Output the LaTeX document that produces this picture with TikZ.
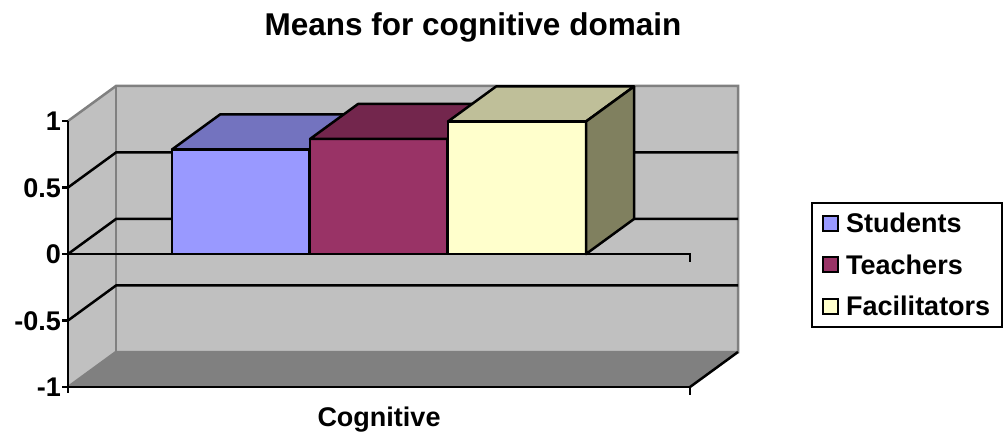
\documentclass[tikz,border=0pt]{standalone}
\usepackage{fontspec}
\setmainfont{Liberation Sans}
\begin{document}
\begin{tikzpicture}[x=1pt,y=-1pt,
  wallfill/.style={fill=wallgray},
  wedge/.style={draw=edgegray,line width=2.5pt},
  gridl/.style={draw=black,line width=2.5pt},
  axisl/.style={draw=black,line width=2.5pt},
  barface/.style={draw=black,line width=2.5pt,line join=round},
  lbl/.style={font=\bfseries\fontsize{27}{30}\selectfont,inner sep=0pt},
  ttl/.style={font=\bfseries\fontsize{31.5}{34}\selectfont,inner sep=0pt},
  legsq/.style={draw=black,line width=2pt,minimum size=15pt,inner sep=0pt}]
\definecolor{wallgray}{HTML}{C0C0C0}
\definecolor{floorgray}{HTML}{808080}
\definecolor{edgegray}{HTML}{808080}
\definecolor{stuF}{HTML}{9999FF}
\definecolor{stuT}{HTML}{7373BF}
\definecolor{teaF}{HTML}{993366}
\definecolor{teaT}{HTML}{73264D}
\definecolor{facF}{HTML}{FFFFCC}
\definecolor{facT}{HTML}{BFBF99}
\definecolor{facS}{HTML}{80805F}
\useasboundingbox[fill=white] (0,0) rectangle (1006,435);

% walls and floor
\fill[wallgray] (116,86) rectangle (738,352);
\fill[wallgray] (68,121) -- (116,86) -- (116,352) -- (68,387) -- cycle;
\fill[floorgray] (68,387) -- (116,352) -- (738,352) -- (690,387) -- cycle;
\draw[wedge] (68,121) -- (116,86) -- (738,86) -- (738,352) -- (116,352) -- (68,387);
\draw[wedge] (116,86) -- (116,352);

% gridlines
\draw[gridl] (68,187.5) -- (116,152.5) -- (738,152.5);
\draw[gridl] (68,254) -- (116,219) -- (738,219);
\draw[gridl] (68,320.5) -- (116,285.5) -- (738,285.5);

% bars
\draw[barface,fill=stuF] (172,254) rectangle (309,149.5);
\draw[barface,fill=stuT] (172,149.5) -- (220,114.5) -- (357,114.5) -- (309,149.5) -- cycle;
\draw[barface,fill=teaF] (310,254) rectangle (447,139);
\draw[barface,fill=teaT] (310,139) -- (358,104) -- (495,104) -- (447,139) -- cycle;
\draw[barface,fill=facF] (448,254) rectangle (586,121.5);
\draw[barface,fill=facT] (448,121.5) -- (496,86.5) -- (634,86.5) -- (586,121.5) -- cycle;
\draw[barface,fill=facS] (586,121.5) -- (634,86.5) -- (634,219) -- (586,254) -- cycle;

% axes
\draw[axisl] (68,121) -- (68,393);
\foreach \yy in {121,187.5,254,320.5,387} \draw[axisl] (62,\yy) -- (68,\yy);
\draw[axisl] (68,254) -- (690,254) -- (690,262);
\draw[axisl] (68,387) -- (690,387) -- (690,395);
\draw[axisl] (690,387) -- (738,352);

% tick labels
\node[lbl,anchor=base east] (t1) at (61,130.7) {1};
\node[lbl,anchor=base east] (t2) at (61,197.2) {0.5};
\node[lbl,anchor=base east] (t3) at (61,263.7) {0};
\node[lbl,anchor=base east] (t4) at (61,330.2) {-0.5};
\node[lbl,anchor=base east] (t5) at (61,396.7) {-1};

% titles
\node[ttl,anchor=base] (title) at (473,36) {Means for cognitive domain};
\node[lbl,anchor=base] (cat) at (379,426.5) {Cognitive};

% legend
\node[draw=black,line width=2pt,fill=white,minimum width=190pt,minimum height=124pt,inner sep=0pt] (legend) at (907,265) {};
\node[legsq,fill=stuF] (sq1) at (830.5,223.5) {};
\node[legsq,fill=teaF] (sq2) at (830.5,265) {};
\node[legsq,fill=facF] (sq3) at (830.5,306.5) {};
\node[lbl,anchor=base west] (l1) at (846,233) {Students};
\node[lbl,anchor=base west] (l2) at (846,274.5) {Teachers};
\node[lbl,anchor=base west] (l3) at (846,316) {Facilitators};
\end{tikzpicture}
\end{document}
